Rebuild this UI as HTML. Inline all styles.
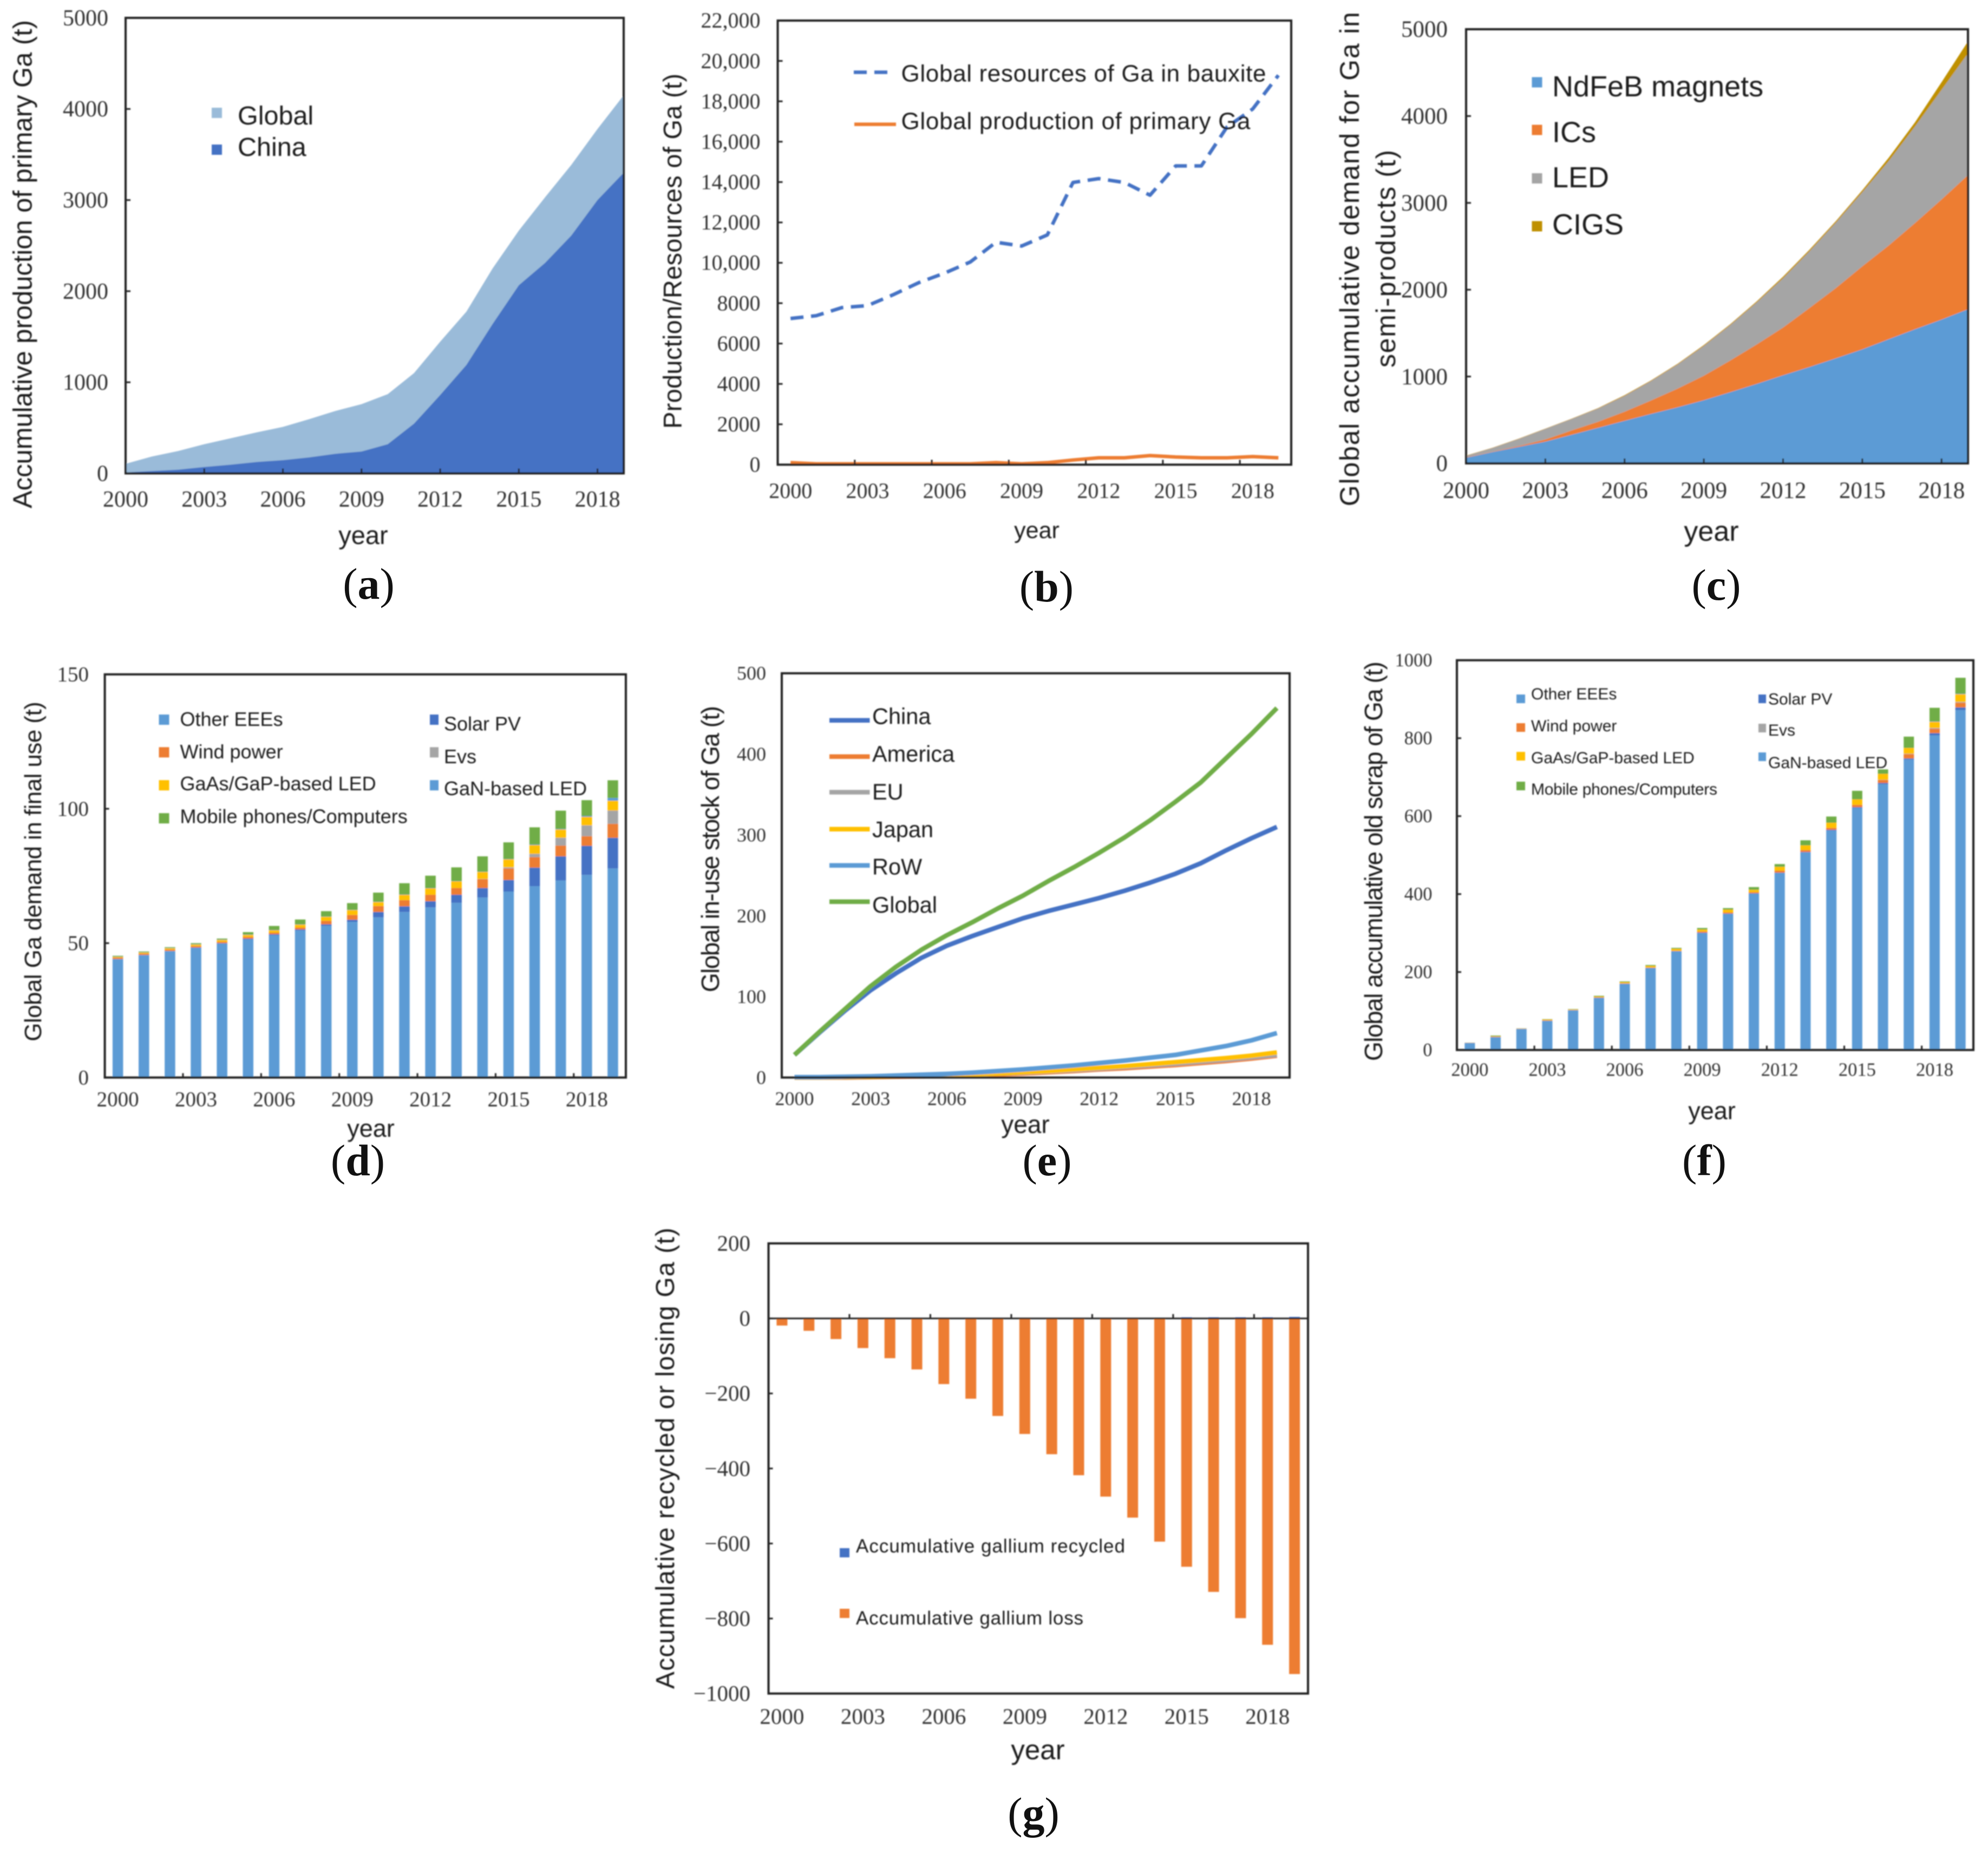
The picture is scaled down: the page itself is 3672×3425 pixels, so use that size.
<!DOCTYPE html>
<html lang="en">
<head>
<meta charset="utf-8">
<title>Gallium flow charts</title>
<style>
html,body{margin:0;padding:0;background:#fff}
svg{display:block}
.sans{font-family:"Liberation Sans",Arial,sans-serif;fill:#1f1f1f}
.serif{font-family:"Liberation Serif","Times New Roman",serif;fill:#333}
.cap{font-family:"Liberation Serif","Times New Roman",serif;fill:#111;font-size:82px;text-anchor:middle}
.cap tspan{font-weight:bold}
.frame{fill:none;stroke:#222;stroke-width:4}
.mid{text-anchor:middle}
</style>
</head>
<body>
<svg xmlns="http://www.w3.org/2000/svg" width="3672" height="3425" viewBox="0 0 3672 3425">
<defs><filter id="soft" x="-2%" y="-2%" width="104%" height="104%"><feGaussianBlur stdDeviation="1.1"/></filter></defs>
<rect width="3672" height="3425" fill="#fff"/>

<!-- Panel a -->
<g filter="url(#soft)">
  <g id="a-marks"></g>
  <rect class="frame" x="232" y="33" width="920" height="841.5"/>
  <g id="a-axes"></g>
  <text class="sans mid" font-size="49" textLength="902" transform="translate(58.5,488) rotate(-90)">Accumulative production of primary Ga (t)</text>
  <text class="sans mid" font-size="47" x="671" y="1005">year</text>
  <rect x="391" y="199" width="19" height="19" fill="#9ABBD9"/>
  <text class="sans" font-size="48.5" x="439" y="230">Global</text>
  <rect x="391" y="267" width="19" height="19" fill="#4472C4"/>
  <text class="sans" font-size="48.5" x="439" y="288">China</text>
</g>
<text class="cap" x="681" y="1106">(<tspan>a</tspan>)</text>

<!-- Panel b -->
<g filter="url(#soft)">
  <g id="b-marks"></g>
  <rect class="frame" x="1436.5" y="38" width="948.5" height="820.4"/>
  <g id="b-axes"></g>
  <text class="sans mid" font-size="47" textLength="656" transform="translate(1258.5,464) rotate(-90)">Production/Resources of Ga (t)</text>
  <text class="sans mid" font-size="43" x="1915" y="994">year</text>
  <line x1="1577" x2="1649" y1="133.5" y2="133.5" stroke="#4472C4" stroke-width="6.5" stroke-dasharray="24 14"/>
  <text class="sans" font-size="44" x="1664.5" y="150.4" textLength="674">Global resources of Ga in bauxite</text>
  <line x1="1578" x2="1655" y1="229.6" y2="229.6" stroke="#ED7D31" stroke-width="6.5"/>
  <text class="sans" font-size="44" x="1664.5" y="238.4" textLength="645">Global production of primary Ga</text>
</g>
<text class="cap" x="1933" y="1111">(<tspan>b</tspan>)</text>

<!-- Panel c -->
<g filter="url(#soft)">
  <g id="c-marks"></g>
  <rect class="frame" x="2708" y="54" width="927" height="802"/>
  <g id="c-axes"></g>
  <text class="sans mid" font-size="50" textLength="913" transform="translate(2510,478.7) rotate(-90)">Global accumulative demand for Ga in</text>
  <text class="sans mid" font-size="50" textLength="402" transform="translate(2577,478) rotate(-90)">semi-products (t)</text>
  <text class="sans mid" font-size="52" x="3161" y="999">year</text>
  <rect x="2829.5" y="142.500" width="19" height="19" fill="#5B9BD5"/>
  <text class="sans" font-size="54" x="2867" y="178">NdFeB magnets</text>
  <rect x="2829.5" y="230.500" width="19" height="19" fill="#ED7D31"/>
  <text class="sans" font-size="54" x="2867" y="262.7">ICs</text>
  <rect x="2829.5" y="320" width="19" height="19" fill="#A5A5A5"/>
  <text class="sans" font-size="54" x="2867" y="346">LED</text>
  <rect x="2829.5" y="408.500" width="19" height="19" fill="#BF9000"/>
  <text class="sans" font-size="54" x="2867" y="433">CIGS</text>
</g>
<text class="cap" x="3170" y="1108">(<tspan>c</tspan>)</text>

<!-- Panel d -->
<g filter="url(#soft)">
  <g id="d-marks"></g>
  <rect class="frame" x="193.6" y="1245.8" width="962.4" height="744.8"/>
  <g id="d-axes"></g>
  <text class="sans mid" font-size="44" textLength="627.6" transform="translate(76,1610) rotate(-90)">Global Ga demand in final use (t)</text>
  <text class="sans mid" font-size="45" x="685" y="2100">year</text>
  <rect x="293.500" y="1320" width="19" height="19" fill="#5B9BD5"/>
  <text class="sans" font-size="36" x="332.500" y="1340.9">Other EEEs</text>
  <rect x="293.500" y="1380.3" width="19" height="19" fill="#ED7D31"/>
  <text class="sans" font-size="36" x="332.500" y="1401">Wind power</text>
  <rect x="293.500" y="1441.2" width="19" height="19" fill="#FFC000"/>
  <text class="sans" font-size="36" x="332.500" y="1460">GaAs/GaP-based LED</text>
  <rect x="293.500" y="1502.2" width="19" height="19" fill="#70AD47"/>
  <text class="sans" font-size="36" x="332.500" y="1520.4">Mobile phones/Computers</text>
  <rect x="794" y="1320" width="16" height="19" fill="#4472C4"/>
  <text class="sans" font-size="36" x="820" y="1349.6">Solar PV</text>
  <rect x="794" y="1380.3" width="16" height="19" fill="#A5A5A5"/>
  <text class="sans" font-size="36" x="820" y="1409.9">Evs</text>
  <rect x="794" y="1441.2" width="16" height="19" fill="#5B9BD5"/>
  <text class="sans" font-size="36" x="820" y="1468.8">GaN-based LED</text>
</g>
<text class="cap" x="661" y="2171">(<tspan>d</tspan>)</text>

<!-- Panel e -->
<g filter="url(#soft)">
  <g id="e-marks"></g>
  <rect class="frame" x="1444" y="1243.8" width="938" height="746.8"/>
  <g id="e-axes"></g>
  <text class="sans mid" font-size="46" textLength="529" transform="translate(1328,1568.5) rotate(-90)">Global in-use stock of Ga (t)</text>
  <text class="sans mid" font-size="46" x="1894" y="2093">year</text>
  <line x1="1532" x2="1606.500" y1="1330.8" y2="1330.8" stroke="#4472C4" stroke-width="8.5"/>
  <text class="sans" font-size="41.500" x="1611" y="1337.5">China</text>
  <line x1="1532" x2="1606.500" y1="1397.8" y2="1397.8" stroke="#ED7D31" stroke-width="8.5"/>
  <text class="sans" font-size="41.500" x="1611" y="1407">America</text>
  <line x1="1532" x2="1606.500" y1="1463.5" y2="1463.5" stroke="#A5A5A5" stroke-width="8.5"/>
  <text class="sans" font-size="41.500" x="1611" y="1476.9">EU</text>
  <line x1="1532" x2="1606.500" y1="1531.8" y2="1531.8" stroke="#FFC000" stroke-width="8.5"/>
  <text class="sans" font-size="41.500" x="1611" y="1546.5">Japan</text>
  <line x1="1532" x2="1606.500" y1="1598.8" y2="1598.8" stroke="#5B9BD5" stroke-width="8.5"/>
  <text class="sans" font-size="41.500" x="1611" y="1615.5">RoW</text>
  <line x1="1532" x2="1606.500" y1="1665.7" y2="1665.7" stroke="#70AD47" stroke-width="8.5"/>
  <text class="sans" font-size="41.500" x="1611" y="1685.8">Global</text>
</g>
<text class="cap" x="1934" y="2171">(<tspan>e</tspan>)</text>

<!-- Panel f -->
<g filter="url(#soft)">
  <g id="f-marks"></g>
  <rect class="frame" x="2691" y="1219.7" width="954" height="720"/>
  <g id="f-axes"></g>
  <text class="sans mid" font-size="46" textLength="738" transform="translate(2553,1591) rotate(-90)">Global accumulative old scrap of Ga (t)</text>
  <text class="sans mid" font-size="45" x="3162" y="2067.6">year</text>
  <rect x="2801" y="1283" width="16" height="16" fill="#5B9BD5"/>
  <text class="sans" font-size="30" x="2828" y="1292">Other EEEs</text>
  <rect x="2801" y="1336" width="16" height="16" fill="#ED7D31"/>
  <text class="sans" font-size="30" x="2828" y="1351">Wind power</text>
  <rect x="2801" y="1389" width="16" height="16" fill="#FFC000"/>
  <text class="sans" font-size="30" x="2828" y="1410">GaAs/GaP-based LED</text>
  <rect x="2801" y="1444" width="16" height="16" fill="#70AD47"/>
  <text class="sans" font-size="30" x="2828" y="1468" textLength="344">Mobile phones/Computers</text>
  <rect x="3248" y="1283" width="14" height="16" fill="#4472C4"/>
  <text class="sans" font-size="30" x="3266" y="1301.4">Solar PV</text>
  <rect x="3248" y="1337" width="14" height="16" fill="#A5A5A5"/>
  <text class="sans" font-size="30" x="3266" y="1359">Evs</text>
  <rect x="3248" y="1390" width="14" height="16" fill="#5B9BD5"/>
  <text class="sans" font-size="30" x="3266" y="1419">GaN-based LED</text>
</g>
<text class="cap" x="3148" y="2171">(<tspan>f</tspan>)</text>

<!-- Panel g -->
<g filter="url(#soft)">
  <g id="g-marks"></g>
  <rect class="frame" x="1419.5" y="2297" width="996.5" height="831.6"/>
  <g id="g-axes"></g>
  <text class="sans mid" font-size="48" textLength="852" transform="translate(1245,2694) rotate(-90)">Accumulative recycled or losing Ga (t)</text>
  <text class="sans mid" font-size="51" x="1917" y="3250">year</text>
  <rect x="1551" y="2860" width="18" height="17" fill="#4472C4"/>
  <text class="sans" font-size="35" x="1581" y="2868" textLength="497">Accumulative gallium recycled</text>
  <rect x="1551" y="2972" width="18" height="17" fill="#ED7D31"/>
  <text class="sans" font-size="35" x="1581" y="3001" textLength="420">Accumulative gallium loss</text>
</g>
<text class="cap" x="1909" y="3377">(<tspan>g</tspan>)</text>
</svg>

<script>
// Shared categories
const years = [2000,2001,2002,2003,2004,2005,2006,2007,2008,2009,2010,2011,2012,2013,2014,2015,2016,2017,2018,2019];
const xTickLabels = ['2000','2003','2006','2009','2012','2015','2018'];

// Panel a: accumulative production of primary Ga
const aYTicks = [0,1000,2000,3000,4000,5000];
const aGlobal = [105,185,245,320,385,450,510,595,685,760,870,1100,1445,1775,2250,2665,3030,3385,3780,4150];
const aChina = [10,25,40,70,95,125,145,175,215,240,320,545,860,1190,1640,2065,2310,2610,3000,3300];

// Panel b: resources and production
const bYTicks = [0,2000,4000,6000,8000,10000,12000,14000,16000,18000,20000,22000];
const bYTickLabels = ['0','2000','4000','6000','8000','10,000','12,000','14,000','16,000','18,000','20,000','22,000'];
const bResources = [7240,7380,7780,7880,8420,9020,9490,10040,11020,10830,11380,13980,14170,13980,13350,14800,14800,16730,17620,19290];
const bProduction = [100,40,40,40,40,40,40,40,100,40,100,230,340,340,450,380,340,340,400,340];

// Panel c: demand in semi-products (stacked)
const cYTicks = [0,1000,2000,3000,4000,5000];
const cNdFeB = [65,130,190,250,330,410,490,570,645,727,820,915,1015,1110,1210,1313,1430,1545,1656,1775];
const cICs = [5,5,10,25,50,70,105,155,215,283,365,455,550,680,810,957,1080,1225,1384,1545];
const cLED = [15,40,80,120,130,150,180,220,275,340,405,480,565,650,750,850,970,1110,1260,1400];
const cCIGS = [5,5,5,5,5,7,10,10,10,12,12,15,20,20,20,25,40,50,90,140];

// Panel d: demand in final use (stacked)
const dYTicks = [0,50,100,150];
const dOther = [44,45.5,47,48.2,49.8,51.4,53,54.8,56.5,57.9,59.6,61.6,63.3,65,67,69.2,71.2,73.3,75.4,77.8];
const dSolar = [0.1,0.1,0.1,0.2,0.2,0.3,0.3,0.3,0.5,0.8,2,2.1,2.3,3,3.5,4.3,6.9,9,10.8,11.4];
const dWind = [0.5,0.5,0.5,0.5,0.5,0.6,0.6,0.7,1.3,1.8,2.2,2.3,2.4,2.5,3.3,4.3,3.9,4,3.6,5.2];
const dEvs = [0,0,0,0,0,0,0,0,0,0,0,0,0,0,0.1,0.4,1.2,2.9,4,4.9];
const dGaAs = [0.3,0.4,0.5,0.6,0.7,0.8,0.9,1.1,1.5,1.8,1.5,2,2.4,2.5,2.6,3,3.3,3.1,3.2,3.7];
const dGaN = [0.1,0.1,0.1,0.1,0.1,0.1,0.1,0.1,0.1,0.1,0.1,0.1,0.1,0.1,0.1,0.1,0.2,0.2,0.3,1];
const dMobile = [0.3,0.3,0.3,0.4,0.4,0.9,1.5,1.8,2,2.5,3.4,4.2,4.6,5.1,5.7,6.2,6.4,6.8,5.9,6.6];

// Panel e: in-use stock
const eYTicks = [0,100,200,300,400,500];
const eChina = [28,56,83,108,129,148,163,175,186,197,206,214,222,231,241,252,265,281,296,310];
const eAmerica = [0,0,0,0.5,1,1.5,2,3,4,5,6.5,8,10,11.5,13.5,15.5,18,20.5,23.5,27];
const eEU = [0,0,0.5,1,1.5,2,2.5,3.5,5,6,7.5,9,11,13,15,17,19.5,22,25,28];
const eJapan = [0,0,0.5,1,1.5,2,3,4,5,6.5,8,10,12,14,16.5,19,21.5,24,27,31];
const eRoW = [0.5,0.5,1,1.5,2.5,3.5,4.5,6,8,10,12.5,15,18,21,24.5,28,33.5,39,46,55];
const eGlobal = [28,57,85,113,137,158,176,192,209,225,243,260,278,297,318,341,365,395,425,457];

// Panel f: old scrap (stacked)
const fYTicks = [0,200,400,600,800,1000];
const fOther = [18,33,54,75,102,134,170,210,253,300,349,401,454,507,563,621,682,745,807,872];
const fSolar = [0,0,0,0,0,0,0,0.5,0.5,1,1,1,1,1,2,2,3,3,6,7];
const fWind = [0.5,1,0.5,1,0.5,1,1,1,1,3,3,3,5,5,5,6,8,11,11,12];
const fEvs = [0,0,0,0,0,0,0,0,0,0,0,0,0,0,0,0,0.5,1,2,2];
const fGaAs = [0.3,1,0.5,2,1.5,2,3,4,5,5,7,6,10,12,13,14,15,15,16,20];
const fGaN = [0,0,0,0,0,0,0,0,0,0,0,0,0,0,0,0,0,0,1,1];
const fMobile = [0.2,2,0.5,1,1,2,2,2.5,2.5,4,4,7,7,13,16,22,11.5,29,35,41];

// Panel g: recycled vs lost
const gYTicks = [-1000,-800,-600,-400,-200,0,200];
const gYTickLabels = ['\u22121000','\u2212800','\u2212600','\u2212400','\u2212200','0','200'];
const gRecycled = [0.1,0.1,0.1,0.1,0.1,0.2,0.2,0.2,0.3,0.3,0.4,0.5,0.6,1,2,3,3,3,3,4];
const gLoss = [-19,-33,-55,-79,-106,-136,-175,-214,-260,-308,-362,-418,-475,-531,-595,-662,-729,-799,-870,-948];

const NS = 'http://www.w3.org/2000/svg';
function make(tag, parentId){
  const el = document.createElementNS(NS, tag);
  document.getElementById(parentId).appendChild(el);
  return el;
}
function scaleY(box, min, max){
  return function(v){ return box.b - (v - min) / (max - min) * (box.b - box.t); };
}
function edgeX(box){
  return function(i){ return box.l + (box.r - box.l) * i / (years.length - 1); };
}
function catX(box){
  return function(i){ return box.l + (box.r - box.l) * (i + 0.5) / years.length; };
}
function drawAxes(id, box, ys, yTicks, yLabels, xOfLabel, xOfTick, opt){
  const tickY = opt.tickBase !== undefined ? opt.tickBase : box.b;
  yTicks.forEach(function(v, i){
    if (opt.tickLen) {
      const t = make('line', id + '-axes');
      
      
      t.setAttribute('x1', box.l);
      t.setAttribute('x2', box.l + opt.tickLen);
      t.setAttribute('y1', ys(v));
      t.setAttribute('y2', ys(v));
      t.setAttribute('stroke', '#222');
      t.setAttribute('stroke-width', 3);
    }
    const lab = make('text', id + '-axes');
    
    
    lab.setAttribute('class', 'serif');
    lab.setAttribute('font-size', opt.font);
    lab.setAttribute('text-anchor', 'end');
    lab.setAttribute('x', opt.yLabelX);
    lab.setAttribute('y', ys(v) + opt.font * 0.33);
    lab.textContent = yLabels[i];
  });
  xTickLabels.forEach(function(label, k){
    const idx = years.indexOf(Number(label));
    if (opt.tickLen) {
      const t = make('line', id + '-axes');
      
      
      t.setAttribute('x1', xOfTick(idx));
      t.setAttribute('x2', xOfTick(idx));
      t.setAttribute('y1', tickY);
      t.setAttribute('y2', tickY - opt.tickLen);
      t.setAttribute('stroke', '#222');
      t.setAttribute('stroke-width', 3);
    }
    const lab = make('text', id + '-axes');
    
    
    lab.setAttribute('class', 'serif mid');
    lab.setAttribute('font-size', opt.font);
    lab.setAttribute('x', xOfLabel(idx));
    lab.setAttribute('y', opt.xLabelY + opt.font * 0.33);
    lab.textContent = label;
  });
}
function boundaryX(box){
  return function(i){ return box.l + (box.r - box.l) * i / years.length; };
}
function drawArea(id, xs, ys, values, base, color, name){
  const p = make('path', id + '-marks');
  
  
  let d = 'M' + xs(0) + ' ' + ys(base[0]);
  values.forEach(function(v, i){ d += 'L' + xs(i) + ' ' + ys(v); });
  for (let i = values.length - 1; i >= 0; i--) { d += 'L' + xs(i) + ' ' + ys(base[i]); }
  p.setAttribute('d', d + 'Z');
  p.setAttribute('fill', color);
}
function drawLine(id, xs, ys, values, color, width, dash, name){
  const p = make('polyline', id + '-marks');
  
  
  p.setAttribute('points', values.map(function(v, i){ return xs(i) + ',' + ys(v); }).join(' '));
  p.setAttribute('fill', 'none');
  p.setAttribute('stroke', color);
  p.setAttribute('stroke-width', width);
  p.setAttribute('stroke-linejoin', 'round');
  if (dash) { p.setAttribute('stroke-dasharray', dash); }
}
function drawBar(id, cx, width, y0, y1, color, name){
  const r = make('rect', id + '-marks');
  
  
  r.setAttribute('x', cx - width / 2);
  r.setAttribute('width', width);
  r.setAttribute('y', Math.min(y0, y1));
  r.setAttribute('height', Math.abs(y1 - y0));
  r.setAttribute('fill', color);
}
function drawStack(id, xs, ys, width, layers){
  years.forEach(function(year, i){
    let sum = 0;
    layers.forEach(function(layer){
      const next = sum + layer.values[i];
      drawBar(id, xs(i), width, ys(sum), ys(next), layer.color, layer.name + '-' + year);
      sum = next;
    });
  });
}
function cumulate(arrays){
  const out = [];
  let run = years.map(function(){ return 0; });
  arrays.forEach(function(a){
    run = run.map(function(v, i){ return v + a[i]; });
    out.push(run);
  });
  return out;
}
const zeros = years.map(function(){ return 0; });

// Panel a
(function(){
  const box = {l:232, r:1152, t:33, b:874.5};
  const ys = scaleY(box, 0, 5000), xs = edgeX(box);
  drawArea('a', xs, ys, aGlobal, zeros, '#9ABBD9', 'area-global');
  drawArea('a', xs, ys, aChina, zeros, '#4472C4', 'area-china');
  drawAxes('a', box, ys, aYTicks, aYTicks.map(String), xs, xs, {font:42, yLabelX:200, xLabelY:922, tickLen:9});
})();

// Panel b
(function(){
  const box = {l:1436.5, r:2385, t:38, b:858.4};
  const ys = scaleY(box, 0, 22000), xs = catX(box);
  drawLine('b', xs, ys, bResources, '#4472C4', 6.5, '24 14', 'line-global-resources');
  drawLine('b', xs, ys, bProduction, '#ED7D31', 6.5, null, 'line-global-production');
  drawAxes('b', box, ys, bYTicks, bYTickLabels, xs, boundaryX(box), {font:40, yLabelX:1404.5, xLabelY:907, tickLen:9});
})();

// Panel c
(function(){
  const box = {l:2708, r:3635, t:54, b:856};
  const ys = scaleY(box, 0, 5000), xs = edgeX(box);
  const tops = cumulate([cNdFeB, cICs, cLED, cCIGS]);
  drawArea('c', xs, ys, tops[0], zeros, '#5B9BD5', 'area-ndfeb');
  drawArea('c', xs, ys, tops[1], tops[0], '#ED7D31', 'area-ics');
  drawArea('c', xs, ys, tops[2], tops[1], '#A5A5A5', 'area-led');
  drawArea('c', xs, ys, tops[3], tops[2], '#BF9000', 'area-cigs');
  drawAxes('c', box, ys, cYTicks, cYTicks.map(String), xs, xs, {font:43, yLabelX:2674, xLabelY:906, tickLen:9});
})();

// Panel d
(function(){
  const box = {l:193.6, r:1156, t:1245.8, b:1990.6};
  const ys = scaleY(box, 0, 150), xs = catX(box);
  drawStack('d', xs, ys, 19.5, [
    {values:dOther, color:'#5B9BD5', name:'bar-other-eees'},
    {values:dSolar, color:'#4472C4', name:'bar-solar-pv'},
    {values:dWind, color:'#ED7D31', name:'bar-wind-power'},
    {values:dEvs, color:'#A5A5A5', name:'bar-evs'},
    {values:dGaAs, color:'#FFC000', name:'bar-gaas-led'},
    {values:dGaN, color:'#5B9BD5', name:'bar-gan-led'},
    {values:dMobile, color:'#70AD47', name:'bar-mobile-computers'}
  ]);
  drawAxes('d', box, ys, dYTicks, dYTicks.map(String), xs, boundaryX(box), {font:39, yLabelX:164, xLabelY:2030.8, tickLen:8});
})();

// Panel e
(function(){
  const box = {l:1444, r:2382, t:1243.8, b:1990.6};
  const ys = scaleY(box, 0, 500), xs = catX(box);
  drawLine('e', xs, ys, eChina, '#4472C4', 8.5, null, 'line-china');
  drawLine('e', xs, ys, eAmerica, '#ED7D31', 8.5, null, 'line-america');
  drawLine('e', xs, ys, eEU, '#A5A5A5', 8.5, null, 'line-eu');
  drawLine('e', xs, ys, eJapan, '#FFC000', 8.5, null, 'line-japan');
  drawLine('e', xs, ys, eRoW, '#5B9BD5', 8.5, null, 'line-row');
  drawLine('e', xs, ys, eGlobal, '#70AD47', 8.5, null, 'line-global');
  drawAxes('e', box, ys, eYTicks, eYTicks.map(String), xs, boundaryX(box), {font:36, yLabelX:1415, xLabelY:2029.4, tickLen:0});
})();

// Panel f
(function(){
  const box = {l:2691, r:3645, t:1219.7, b:1939.7};
  const ys = scaleY(box, 0, 1000), xs = catX(box);
  drawStack('f', xs, ys, 19, [
    {values:fOther, color:'#5B9BD5', name:'bar-other-eees'},
    {values:fSolar, color:'#4472C4', name:'bar-solar-pv'},
    {values:fWind, color:'#ED7D31', name:'bar-wind-power'},
    {values:fEvs, color:'#A5A5A5', name:'bar-evs'},
    {values:fGaAs, color:'#FFC000', name:'bar-gaas-led'},
    {values:fGaN, color:'#5B9BD5', name:'bar-gan-led'},
    {values:fMobile, color:'#70AD47', name:'bar-mobile-computers'}
  ]);
  drawAxes('f', box, ys, fYTicks, fYTicks.map(String), xs, boundaryX(box), {font:34.5, yLabelX:2645.5, xLabelY:1975.9, tickLen:8});
})();

// Panel g
(function(){
  const box = {l:1419.5, r:2416, t:2297, b:3128.6};
  const ys = scaleY(box, -1000, 200), xs = catX(box);
  years.forEach(function(year, i){
    drawBar('g', xs(i), 20, ys(0), ys(gRecycled[i]), '#4472C4', 'bar-recycled-' + year);
    drawBar('g', xs(i), 20, ys(0), ys(gLoss[i]), '#ED7D31', 'bar-loss-' + year);
  });
  const zero = make('line', 'g-axes');
  
  
  zero.setAttribute('x1', box.l);
  zero.setAttribute('x2', box.r);
  zero.setAttribute('y1', ys(0));
  zero.setAttribute('y2', ys(0));
  zero.setAttribute('stroke', '#222');
  zero.setAttribute('stroke-width', 3);
  drawAxes('g', box, ys, gYTicks, gYTickLabels, xs, boundaryX(box), {font:41, yLabelX:1386, xLabelY:3171, tickLen:8, tickBase:ys(0)});
})();
</script>
</body>
</html>
